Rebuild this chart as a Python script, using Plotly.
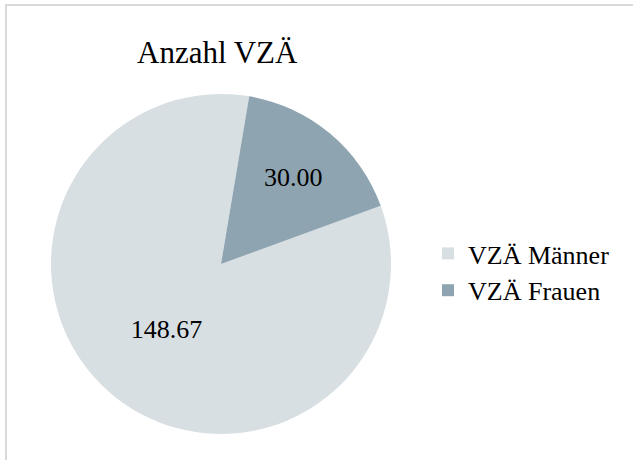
import plotly.graph_objects as go

labels = ["VZÄ Männer", "VZÄ Frauen"]
values = [148.67, 30.00]
text_labels = ["148.67", "30.00"]
colors = ["#d8dfe3", "#8ea4b1"]
title_text = "Anzahl VZÄ"

W, H = 633, 460
FONT = "Liberation Serif, Times New Roman, serif"

fig = go.Figure(go.Pie(
    labels=labels,
    values=values,
    text=text_labels,
    textinfo="text",
    textposition="inside",
    insidetextorientation="horizontal",
    sort=False,
    direction="clockwise",
    rotation=70,
    marker=dict(colors=colors, line=dict(width=0)),
    textfont=dict(family=FONT, size=26, color="#000000"),
    domain=dict(x=[51 / W, 391 / W], y=[1 - 434 / H, 1 - 94 / H]),
    hoverinfo="label+value",
))

fig.update_layout(
    width=W, height=H,
    margin=dict(l=0, r=0, t=0, b=0),
    paper_bgcolor="white",
    plot_bgcolor="white",
    showlegend=True,
    legend=dict(
        x=428 / W, y=1 - 272 / H, xanchor="left", yanchor="middle",
        font=dict(family=FONT, size=26, color="#000000"),
        itemsizing="constant",
        bgcolor="rgba(0,0,0,0)",
    ),
    annotations=[dict(
        text=title_text, x=217 / W, y=1 - 52 / H, xref="paper", yref="paper",
        xanchor="center", yanchor="middle", showarrow=False,
        font=dict(family=FONT, size=31, color="#000000"),
    )],
    shapes=[dict(
        type="rect", xref="paper", yref="paper",
        x0=6 / W, x1=1.2, y0=-0.2, y1=1 - 5 / H,
        line=dict(color="#d9d9d9", width=2), fillcolor="rgba(0,0,0,0)",
        layer="below",
    )],
)

fig.write_html(
    "out.html",
    config={"displayModeBar": False},
    post_script="document.body.style.margin='0';",
)
